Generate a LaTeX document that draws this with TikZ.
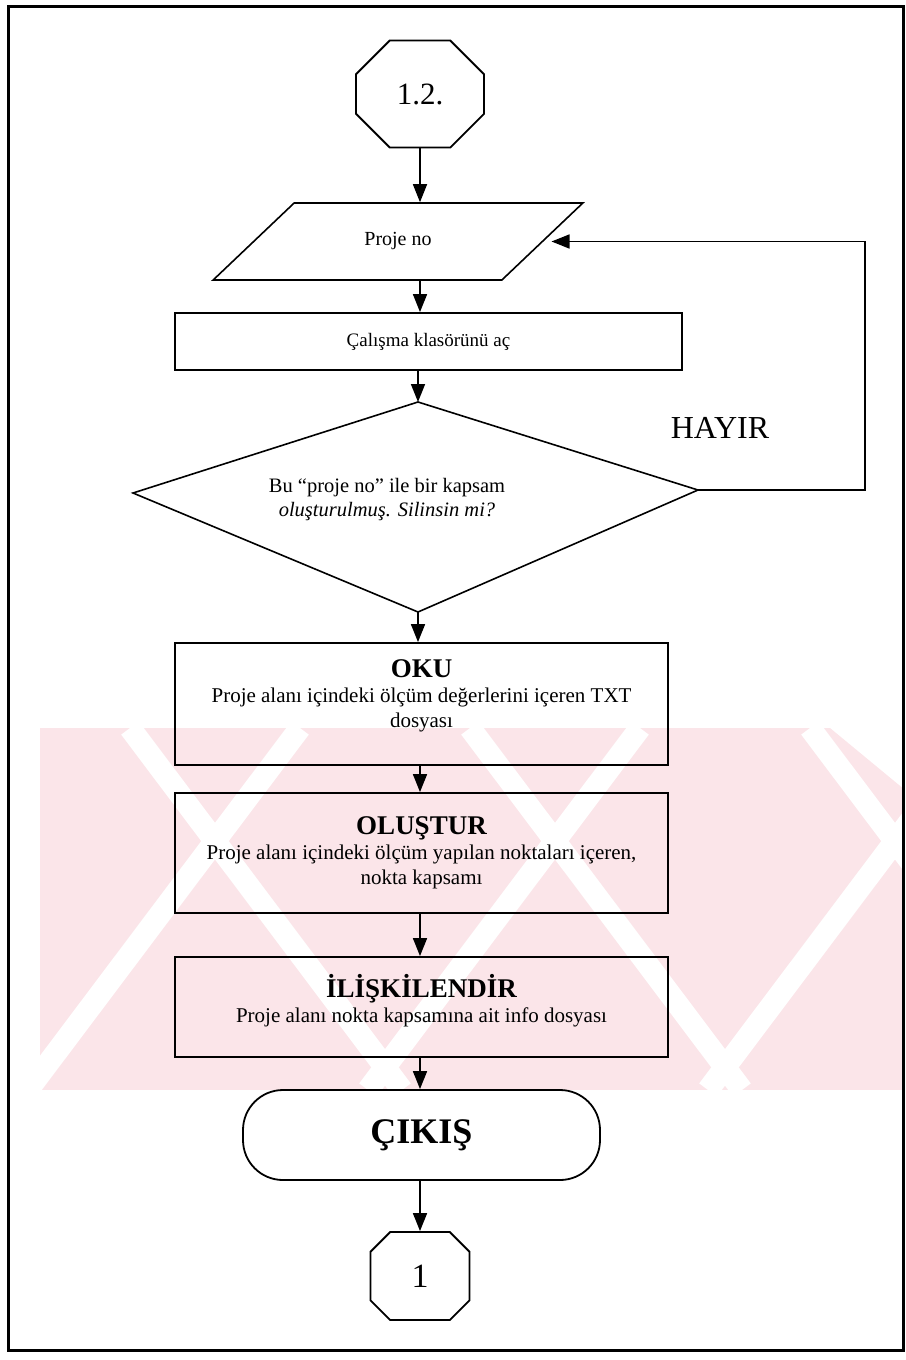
\documentclass[tikz,border=0pt]{standalone}
\usepackage{fontspec}
\setmainfont{Liberation Serif}
\usetikzlibrary{shapes.geometric,shapes.misc,arrows.meta,calc}
\definecolor{wmpink}{RGB}{251,229,233}
\newcommand{\headfont}{\fontsize{27}{31}\selectfont\bfseries}
\tikzset{
  >={Triangle[length=18pt,width=14pt]},
  line/.style={draw, line width=1.6pt, ->},
  octa/.style={chamfered rectangle, chamfered rectangle xsep=#1,
    chamfered rectangle ysep=#1, draw, line width=1.8pt, inner sep=0pt},
  inbox/.style={trapezium, trapezium left angle=40, trapezium right angle=140,
    trapezium stretches=true, draw, line width=1.6pt,
    minimum width=370pt, minimum height=77pt, font=\fontsize{20}{24}\selectfont},
  procbox/.style={rectangle, draw, line width=1.8pt, minimum width=493pt,
    align=center, font=\fontsize{21}{25}\selectfont},
  endbox/.style={rectangle, rounded corners=40pt, draw, line width=1.8pt,
    minimum width=357pt, minimum height=90pt,
    font=\fontsize{36}{40}\selectfont\bfseries},
  stripe/.style={white, line width=22pt},
}
\begin{document}
\begin{tikzpicture}[x=1pt, y=-1pt]
    \useasboundingbox (0,0) rectangle (905,1360);

    %watermark
    \begin{scope}
    \clip (40,728) -- (830,728) -- (905,790) -- (905,1090) -- (40,1090) -- cycle;
    \fill[wmpink] (40,728) rectangle (905,1090);
    \foreach \x in {130,470,810}
        \draw[stripe] (\x,728) -- ++(272,362);
    \foreach \x in {300,640,980}
        \draw[stripe] (\x,728) -- ++(-272,362);
    \end{scope}

    %frame
    \draw[line width=3pt] (8,6) rectangle (903,1350);

    %nodes
    \node[octa=32pt, minimum width=128pt, minimum height=107pt,
        font=\fontsize{31}{35}\selectfont] (start) at (420,94) {1.2.};
    \node[inbox] (inp) at (398,241.5) {Proje no};
    \node[procbox, minimum width=507pt, minimum height=57pt,
        font=\fontsize{19}{23}\selectfont] (open) at (428.5,341.5)
        {Çalışma klasörünü aç};

    %decision
    \coordinate (askT) at (418,402);
    \coordinate (askL) at (133,493);
    \coordinate (askR) at (698,490);
    \coordinate (askB) at (418,612);
    \draw[line width=1.6pt] (askT) -- (askR) -- (askB) -- (askL) -- cycle;
    \node[align=center, font=\fontsize{20.5}{24}\selectfont] (ask) at (387,500)
        {Bu “proje no” ile bir kapsam\\\textit{oluşturulmuş. Silinsin mi?}};
    \node[font=\fontsize{32}{36}\selectfont] (no) at (720,428) {HAYIR};
    \coordinate (loop) at (865,490);

    \node[procbox, minimum height=122pt] (oku) at (421.5,704)
        {{\headfont OKU}\\Proje alanı içindeki ölçüm değerlerini içeren TXT\\dosyası\\[-4pt]\mbox{}};
    \node[procbox, minimum height=120pt] (olus) at (421.5,853)
        {{\headfont OLUŞTUR}\\Proje alanı içindeki ölçüm yapılan noktaları içeren,\\nokta kapsamı};
    \node[procbox, minimum height=100pt] (ilis) at (421.5,1007)
        {{\headfont İLİŞKİLENDİR}\\Proje alanı nokta kapsamına ait info dosyası\\[-8pt]\mbox{}};
    \node[endbox] (cikis) at (421.5,1135) {ÇIKIŞ};
    \node[octa=26pt, minimum width=99pt, minimum height=88pt,
        font=\fontsize{34}{38}\selectfont] (son) at (420,1276) {1};

    %connectors
    \draw[line] (start.south) -- (start.south |- inp.north);
    \draw[line] (inp.south -| start) -- (open.north -| start);
    \draw[line] (open.south -| askT) -- (askT);
    \draw[line, shorten >=8pt] (askR) -- (loop) |- (inp.east);
    \draw[line] (askB) -- (askB |- oku.north);
    \draw[line] (oku.south -| start) -- (olus.north -| start);
    \draw[line] (olus.south -| start) -- (ilis.north -| start);
    \draw[line] (ilis.south -| start) -- (cikis.north -| start);
    \draw[line] (cikis.south -| start) -- (son.north);
\end{tikzpicture}
\end{document}
